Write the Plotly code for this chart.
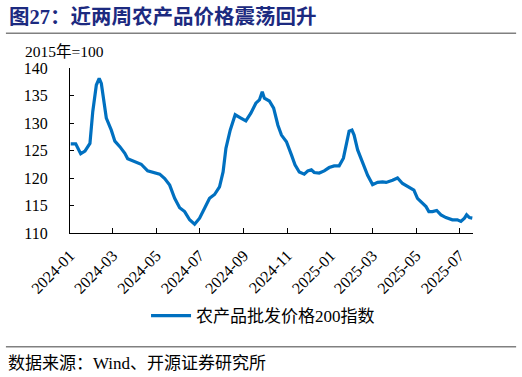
import plotly.graph_objects as go

dates = [
    "2024-01-02", "2024-01-09", "2024-01-16", "2024-01-22", "2024-01-29", "2024-02-02",
    "2024-02-07", "2024-02-11", "2024-02-14", "2024-02-19", "2024-02-21", "2024-02-28",
    "2024-03-04", "2024-03-11", "2024-03-18", "2024-03-22", "2024-04-01", "2024-04-10",
    "2024-04-19", "2024-04-29", "2024-05-06", "2024-05-13", "2024-05-20", "2024-05-27",
    "2024-06-03", "2024-06-10", "2024-06-17", "2024-06-24", "2024-07-01", "2024-07-08",
    "2024-07-15", "2024-07-22", "2024-07-29", "2024-08-03", "2024-08-07", "2024-08-13",
    "2024-08-20", "2024-08-28", "2024-09-04", "2024-09-11", "2024-09-18", "2024-09-23",
    "2024-09-27", "2024-09-30", "2024-10-07", "2024-10-13", "2024-10-19", "2024-10-24",
    "2024-10-31", "2024-11-07", "2024-11-12", "2024-11-18", "2024-11-25", "2024-11-30",
    "2024-12-05", "2024-12-09", "2024-12-16", "2024-12-23", "2024-12-30", "2025-01-06",
    "2025-01-13", "2025-01-19", "2025-01-24", "2025-01-27", "2025-01-31", "2025-02-03",
    "2025-02-08", "2025-02-15", "2025-02-22", "2025-03-01", "2025-03-08", "2025-03-15",
    "2025-03-20", "2025-03-29", "2025-04-05", "2025-04-12", "2025-04-21", "2025-04-28",
    "2025-05-03", "2025-05-08", "2025-05-15", "2025-05-19", "2025-05-24", "2025-05-30",
    "2025-06-05", "2025-06-12", "2025-06-21", "2025-06-28", "2025-07-03", "2025-07-08",
    "2025-07-11", "2025-07-15", "2025-07-19",
]
values = [
    126.2, 126.2, 124.4, 124.9, 126.3, 132.1,
    136.9, 138.1, 137.2, 133.3, 130.9, 128.7,
    126.7, 125.7, 124.5, 123.5, 123.0, 122.5,
    121.3, 120.9, 120.7, 119.9, 118.7, 116.3,
    114.6, 113.9, 112.4, 111.6, 112.7, 114.5,
    116.3, 117.0, 118.4, 121.1, 125.4, 128.7,
    131.5, 130.9, 130.4, 131.8, 133.6, 134.2,
    135.7, 134.5, 134.0, 132.7, 129.6, 127.8,
    126.6, 124.2, 122.4, 121.1, 120.7, 121.3,
    121.5, 121.0, 120.9, 121.3, 121.9, 122.2,
    122.2, 123.6, 126.6, 128.5, 128.7, 127.8,
    125.1, 122.7, 120.5, 118.8, 119.2, 119.3,
    119.2, 119.6, 120.0, 119.0, 118.4, 117.8,
    116.3, 115.7, 114.8, 113.9, 113.9, 114.1,
    113.3, 112.8, 112.4, 112.4, 112.1, 112.7,
    113.3, 112.8, 112.7,
]
series_name = "农产品批发价格200指数"
title_text = "图27：近两周农产品价格震荡回升"
unit_text = "2015年=100"
source_text = "数据来源：Wind、开源证券研究所"
tick_dates = ["2024-01-01", "2024-03-01", "2024-05-01", "2024-07-01", "2024-09-01",
              "2024-11-01", "2025-01-01", "2025-03-01", "2025-05-01", "2025-07-01"]
tick_labels = ["2024-01", "2024-03", "2024-05", "2024-07", "2024-09",
               "2024-11", "2025-01", "2025-03", "2025-05", "2025-07"]
y_ticks = [110, 115, 120, 125, 130, 135, 140]

serif = "Times New Roman, Liberation Serif, Noto Sans CJK SC"

fig = go.Figure()
fig.add_trace(go.Scatter(
    x=dates, y=values, mode="lines", name=series_name,
    line=dict(color="#0070C0", width=3.2),
))

fig.update_layout(
    width=522, height=377,
    margin=dict(l=70, r=49, t=68, b=144),
    paper_bgcolor="white", plot_bgcolor="white",
    font=dict(family=serif, size=16, color="black"),
    showlegend=True,
    legend=dict(orientation="h", x=0.479, xanchor="center", y=-0.503, yanchor="middle",
                font=dict(family=serif, size=17, color="black"), bgcolor="rgba(0,0,0,0)",
                itemwidth=40),
    xaxis=dict(
        type="date", range=["2024-01-01", "2025-07-20"],
        tickvals=tick_dates, ticktext=tick_labels, tickangle=-45,
        ticks="inside", ticklen=5, tickcolor="black",
        showline=True, linecolor="black", linewidth=1.2,
        showgrid=False, zeroline=False, ticklabelstandoff=6,
        tickfont=dict(family=serif, size=16, color="black"),
    ),
    yaxis=dict(
        range=[110, 140], tickvals=y_ticks,
        ticks="inside", ticklen=4, tickcolor="black",
        showline=True, linecolor="black", linewidth=1.2,
        showgrid=False, zeroline=False, ticklabelstandoff=18,
        tickfont=dict(family=serif, size=16, color="black"),
    ),
    annotations=[
        dict(text="<b>" + title_text + "</b>", xref="paper", yref="paper",
             x=-0.156, y=1.312, xanchor="left", yanchor="middle", showarrow=False,
             font=dict(family=serif, size=20.5, color="#1c2a80")),
        dict(text=unit_text, xref="paper", yref="paper",
             x=-0.117, y=1.102, xanchor="left", yanchor="middle", showarrow=False,
             font=dict(family=serif, size=15.5, color="black")),
        dict(text=source_text, xref="paper", yref="paper",
             x=-0.158, y=-0.788, xanchor="left", yanchor="middle", showarrow=False,
             font=dict(family=serif, size=17, color="black")),
    ],
    shapes=[
        dict(type="line", xref="paper", yref="paper", x0=-0.159, x1=1.107,
             y0=1.210, y1=1.210, line=dict(color="#808080", width=1.5)),
        dict(type="line", xref="paper", yref="paper", x0=-0.159, x1=1.107,
             y0=-0.689, y1=-0.689, line=dict(color="#808080", width=1.5)),
    ],
)

fig.write_html("out.html", config={"displayModeBar": False},
               post_script="document.body.style.margin='0';")
